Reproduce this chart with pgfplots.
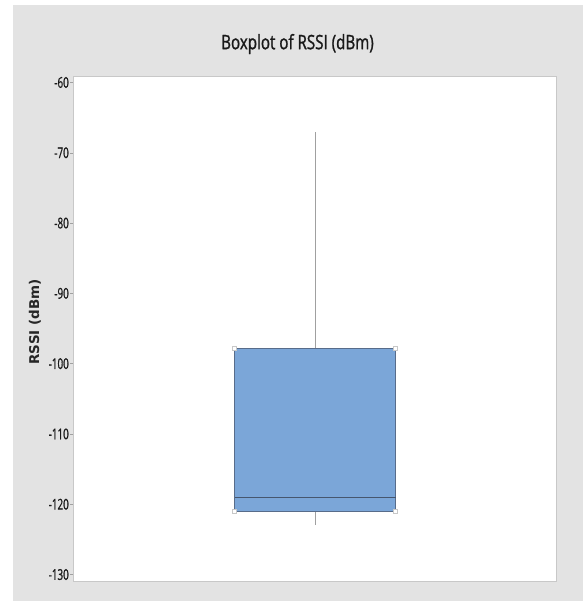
\documentclass[border=0pt]{standalone}
\usepackage{pgfplots}
\pgfplotsset{compat=1.18}
\usepackage{fontspec}
\setmainfont{Open Sans}
\newfontfamily\titlefont[FakeStretch=0.76, FakeBold=1.2]{Open Sans}
\newfontfamily\tickfont[FakeStretch=0.66, FakeBold=0.8]{Open Sans}
\newfontfamily\labfont{DejaVu Sans}
\definecolor{bggray}{RGB}{227,227,227}
\definecolor{boxblue}{RGB}{123,166,216}
\definecolor{boxedge}{RGB}{88,108,138}
\definecolor{medline}{RGB}{70,86,110}
\definecolor{framegray}{RGB}{200,200,200}
\definecolor{whiskgray}{RGB}{160,160,160}
\begin{document}
\begin{tikzpicture}
\fill[white] (-73.5bp,-20bp) rectangle (510.5bp,581bp);
\fill[bggray] (-60.5bp,-20bp) rectangle (509.5bp,576bp);
\begin{axis}[
  at={(0,0)}, anchor=south west,
  scale only axis, width=483.2bp, height=505bp,
  xmin=0, xmax=3, ymin=-130.92, ymax=-59.08,
  xtick=\empty,
  ytick={-130,-120,-110,-100,-90,-80,-70,-60},
  ytick pos=left,
  tick align=outside,
  major tick length=3bp,
  tick style={draw=whiskgray, thin},
  axis line style={draw=framegray, line width=0.8bp},
  axis background/.style={fill=white},
  /pgf/number format/assume math mode=true,
  yticklabel style={font=\tickfont\fontsize{15}{15}\selectfont, text=black!90, inner sep=1.5bp},
  ylabel={RSSI (dBm)},
  ylabel style={font=\labfont\bfseries\fontsize{13.5}{14}\selectfont, text=black!85, at={(axis description cs:-0.0797,0.513)}, anchor=center},
]
% whiskers
\addplot[draw=whiskgray, line width=0.8bp, mark=none] coordinates {(1.5,-97.8) (1.5,-67)};
\addplot[draw=whiskgray, line width=0.8bp, mark=none] coordinates {(1.5,-121) (1.5,-123)};
% box (Q1 = -121, Q3 = -97.8)
\addplot[draw=boxedge, fill=boxblue, line width=0.8bp, mark=none] coordinates {(1,-121) (2,-121) (2,-97.8) (1,-97.8)} -- cycle;
% median
\addplot[draw=medline, line width=1.1bp, mark=none] coordinates {(1,-119) (2,-119)};
% corner handles
\addplot[only marks, mark=square*, mark size=2bp, mark options={fill=white, draw=framegray, line width=0.5bp}]
  coordinates {(1,-97.8) (2,-97.8) (1,-121) (2,-121)};
\end{axis}
\node[font=\titlefont\fontsize{20}{21}\selectfont, text=black!90] at (224bp,537bp) {Boxplot of RSSI (dBm)};
\end{tikzpicture}
\end{document}
